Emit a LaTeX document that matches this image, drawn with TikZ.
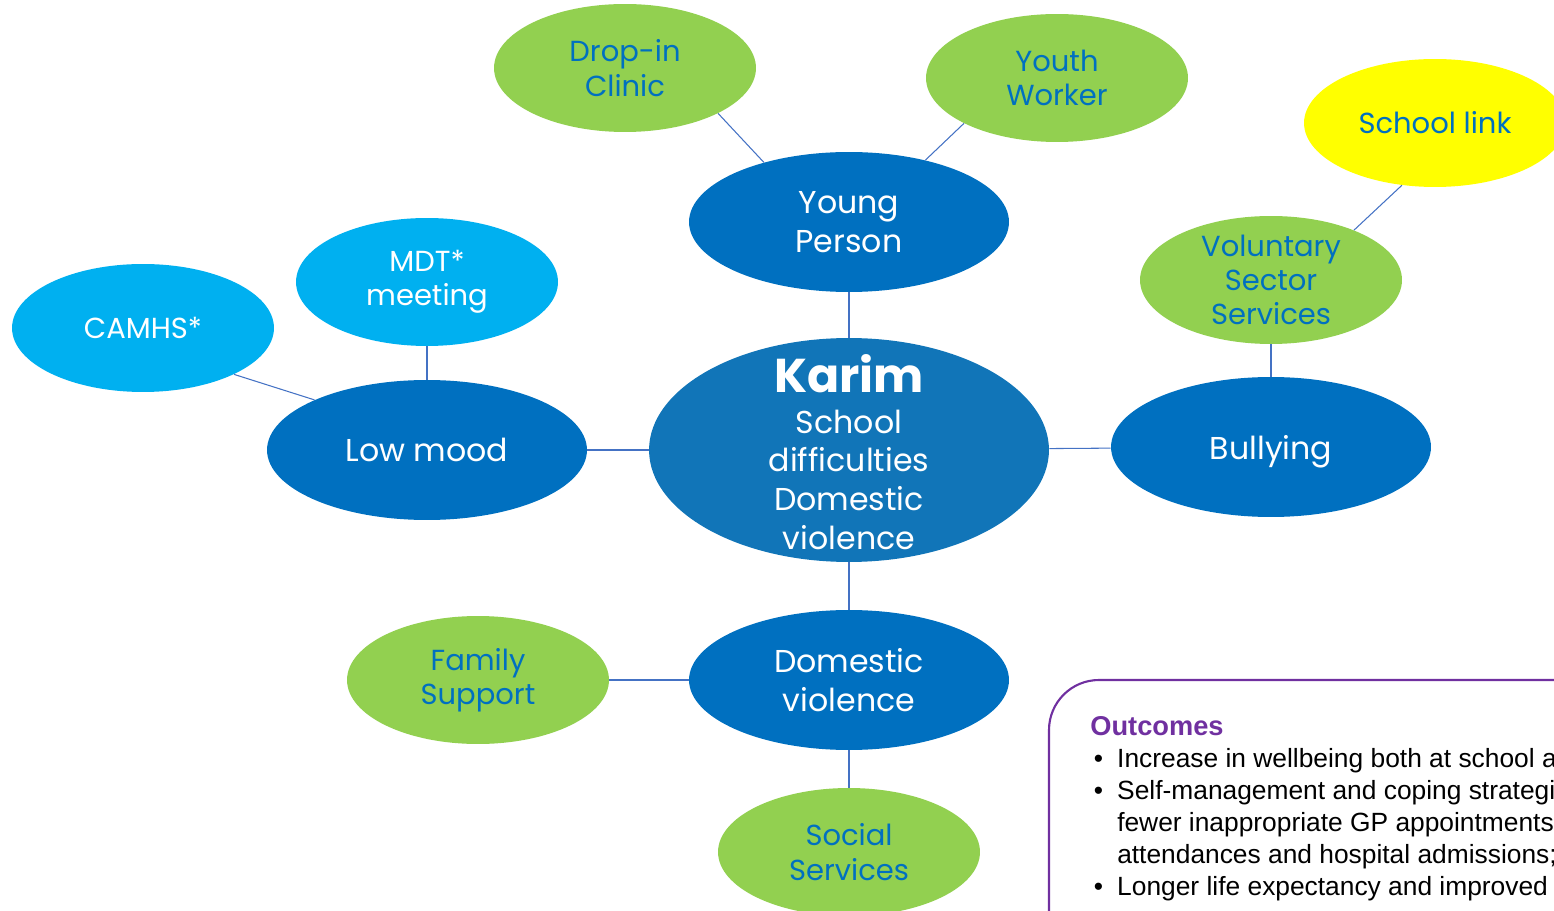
\documentclass[tikz,border=0pt]{standalone}
\usepackage{fontspec}
\setmainfont{Poppins}
\newfontfamily\arialfont{Liberation Sans}
\usetikzlibrary{shapes.geometric}
\definecolor{kmdark}{HTML}{0070C0}
\definecolor{kmcentre}{HTML}{1175B8}
\definecolor{kmgreen}{HTML}{92D050}
\definecolor{kmsky}{HTML}{00B0F0}
\definecolor{kmyellow}{HTML}{FFFF00}
\definecolor{kmline}{HTML}{4472C4}
\definecolor{kmpurple}{HTML}{7030A0}
\newcommand{\kmbul}{\hspace*{2pt}\makebox[13.3pt][l]{\textbullet}}

\begin{document}
\begin{tikzpicture}[x=0.02cm, y=-0.02cm,
    bubble/.style={ellipse, inner sep=0pt, align=center},
    issue/.style={bubble, fill=kmdark, text=white, minimum width=6.4cm,
      minimum height=2.8cm, font=\fontsize{18}{22}\selectfont},
    service/.style={bubble, fill=kmgreen, text=kmdark, minimum width=5.24cm,
      minimum height=2.56cm, font=\fontsize{16.5}{19.5}\selectfont},
    clinical/.style={service, fill=kmsky, text=white},
    link/.style={draw=kmline, line width=0.6pt}]
  \clip (0,0) rectangle (1554,911);
  \useasboundingbox (0,0) rectangle (1554,911);

  % centre
  \node[ellipse, inner sep=0pt, fill=kmcentre, text=white, minimum width=8cm,
        minimum height=4.48cm, font=\fontsize{18}{22}\selectfont] (karim) at (849,450)
        {\smash{\raisebox{-8.7pt}{\begin{tabular}{@{}c@{}}
          {\fontsize{27}{30}\selectfont\bfseries Karim}\\[1pt]
          School\\ difficulties\\ Domestic\\ violence\end{tabular}}}};

  % issues
  \node[issue] (young) at (849,222) {Young\\ Person};
  \node[issue] (low) at (427,450) {Low mood};
  \node[issue, text depth=0pt] (bully) at (1271,447) {Bullying};
  \node[issue] (domestic) at (849,680) {Domestic\\ violence};

  % services
  \node[service] (drop) at (625,68) {Drop-in\\ Clinic};
  \node[service] (youth) at (1057,78) {Youth\\ Worker};
  \node[service, fill=kmyellow] (school) at (1435,123) {School link};
  \node[service] (vol) at (1271,280) {Voluntary\\ Sector\\ Services};
  \node[clinical] (mdt) at (427,282) {MDT*\\ meeting};
  \node[clinical] (camhs) at (143,328) {CAMHS*};
  \node[service] (family) at (478,680) {Family\\ Support};
  \node[service] (social) at (849,852) {Social\\ Services};

  % links
  \draw[link] (drop.-26) -- (young.145);
  \draw[link] (youth.206) -- (young.39);
  \draw[link] (school.242) -- (vol.31);
  \draw[link] (vol) -- (bully);
  \draw[link] (young) -- (karim);
  \draw[link] (mdt) -- (low);
  \draw[link] (camhs.-27) -- (low.156);
  \draw[link] (low) -- (karim);
  \draw[link] (karim) -- (bully);
  \draw[link] (karim) -- (domestic);
  \draw[link] (family) -- (domestic);
  \draw[link] (domestic) -- (social);

  % outcomes box
  \draw[kmpurple, line width=1.2pt, rounded corners=1cm] (1049,1000) -- (1049,680) -- (1700,680);
  \node[anchor=north west, inner sep=0pt, align=left,
        font=\arialfont\fontsize{15}{18.2}\selectfont] (outc) at (1090,716)
        {\textcolor{kmpurple}{\fontsize{15.5}{18.2}\selectfont\bfseries Outcomes}\\
         \kmbul Increase in wellbeing both at school and\\
         \kmbul Self-management and coping strategies\\
         \hspace*{15.3pt}fewer inappropriate GP appointments\\
         \hspace*{15.3pt}attendances and hospital admissions;\\
         \kmbul Longer life expectancy and improved};
\end{tikzpicture}
\end{document}
